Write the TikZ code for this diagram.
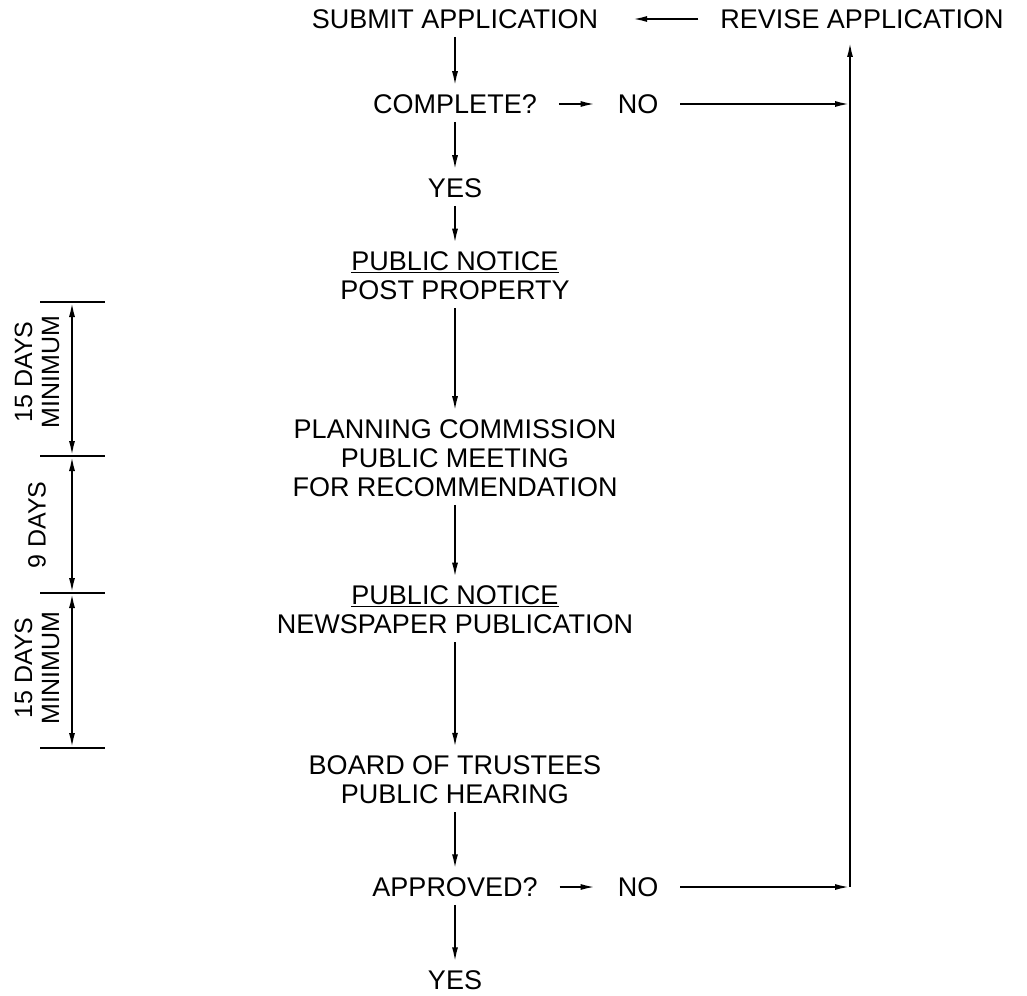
\documentclass[tikz,border=0pt]{standalone}
\usepackage{fontspec}
\setmainfont{Liberation Sans}
\usetikzlibrary{arrows.meta,positioning,calc}

\begin{document}
\begin{tikzpicture}[
      x=1pt,y=-1pt,
      txt/.style={font=\fontsize{27}{29}\selectfont,align=center,inner xsep=22pt,inner ysep=8pt},
      dimtxt/.style={font=\fontsize{25}{27}\selectfont,align=center,inner sep=0pt,rotate=90},
      arr/.style={-{Latex[length=15pt,width=6pt]},line width=2pt},
      dim/.style={{Latex[length=15pt,width=6pt]}-{Latex[length=15pt,width=6pt]},line width=2pt},
      lin/.style={line width=2pt},
    ]
    \useasboundingbox (0,0) rectangle (1027,995);
    % main column
    \node[txt] (submit) at (455,19) {SUBMIT APPLICATION};
    \node[txt] (revise) at (862,19) {REVISE APPLICATION};
    \node[txt] (complete) at (455,104) {COMPLETE?};
    \node[txt] (no1) at (638,104) {NO};
    \node[txt] (yes1) at (455,188) {YES};
    \node[txt] (post) at (455,276) {\underline{PUBLIC NOTICE}\\POST PROPERTY};
    \node[txt] (planning) at (455,458) {PLANNING COMMISSION\\PUBLIC MEETING\\FOR RECOMMENDATION};
    \node[txt] (paper) at (455,610) {\underline{PUBLIC NOTICE}\\NEWSPAPER PUBLICATION};
    \node[txt] (board) at (455,780) {BOARD OF TRUSTEES\\PUBLIC HEARING};
    \node[txt] (approved) at (455,887) {APPROVED?};
    \node[txt] (no2) at (638,887) {NO};
    \node[txt] (yes2) at (455,980) {YES};

    \draw[arr] (submit) -- (complete);
    \draw[arr] (complete) -- (yes1);
    \draw[arr] (yes1) -- (post);
    \draw[arr] (post) -- (planning);
    \draw[arr] (planning) -- (paper);
    \draw[arr] (paper) -- (board);
    \draw[arr] (board) -- (approved);
    \draw[arr] (approved) -- (yes2);
    \draw[arr] (complete) -- (no1);
    \draw[arr] (approved) -- (no2);
    \draw[arr,shorten >=12pt] (revise) -- (submit);

    % return line
    \coordinate (rail) at (850,887);
    \coordinate (railtop) at (850,42);
    \draw[arr] (no1) -- (no1 -| rail);
    \draw[arr] (no2) -- (rail);
    \draw[arr] (rail) -- (railtop);

    % time span dimensions
    \coordinate (d1) at (72,302);
    \coordinate (d2) at (72,456);
    \coordinate (d3) at (72,593);
    \coordinate (d4) at (72,748);
    \foreach \d in {d1,d2,d3,d4}
      \draw[lin] ([xshift=-32pt]\d) -- ([xshift=33pt]\d);
    \draw[dim] (d1) -- (d2);
    \draw[dim] (d2) -- (d3);
    \draw[dim] (d3) -- (d4);
    \node[dimtxt] (span1) at (37,372) {15 DAYS\\MINIMUM};
    \node[dimtxt] (span2) at (37,525) {9 DAYS};
    \node[dimtxt] (span3) at (37,668) {15 DAYS\\MINIMUM};
  \end{tikzpicture}
\end{document}
